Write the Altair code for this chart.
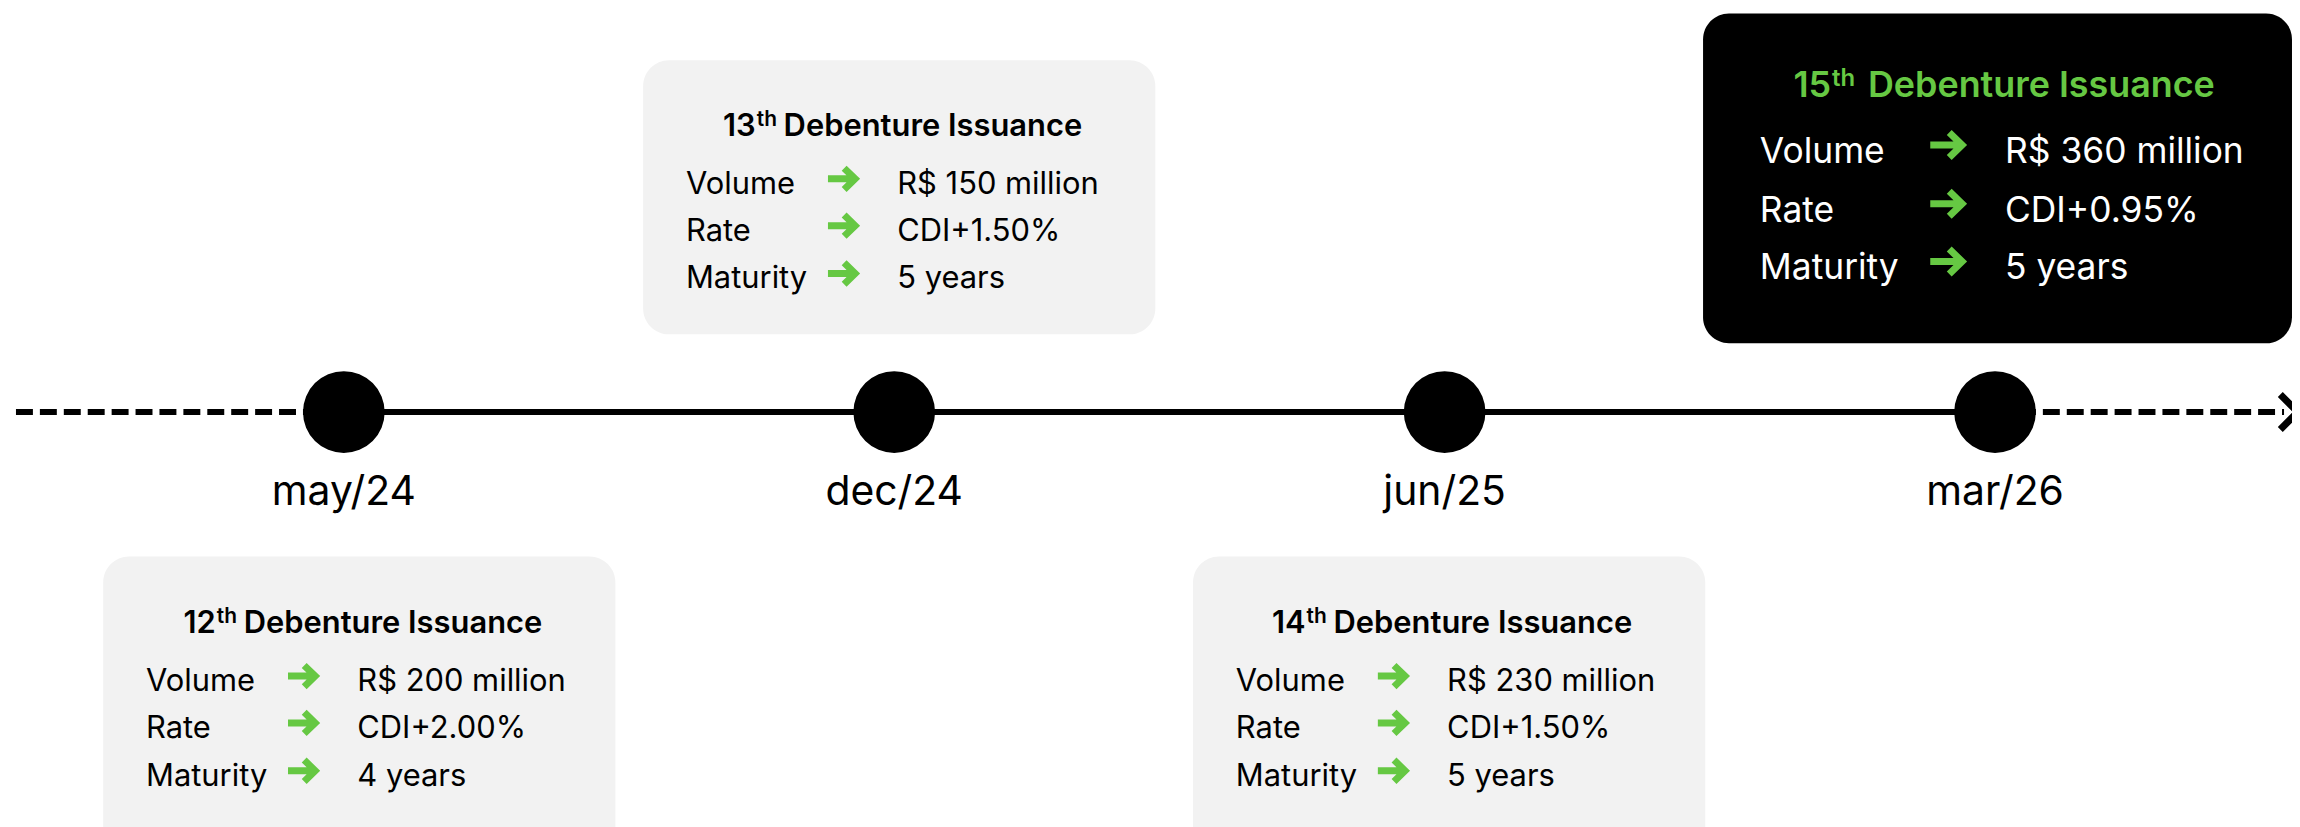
import altair as alt
import pandas as pd

# ---------------- data ----------------
dates = ["may/24", "dec/24", "jun/25", "mar/26"]
ordinals = ["12", "13", "14", "15"]
row_labels = ["Volume", "Rate", "Maturity"]
volumes = ["R$ 200 million", "R$ 150 million", "R$ 230 million", "R$ 360 million"]
rates = ["CDI+2.00%", "CDI+1.50%", "CDI+1.50%", "CDI+0.95%"]
maturities = ["4 years", "5 years", "5 years", "5 years"]
placement = ["below", "above", "below", "above"]
highlight = [False, False, False, True]

# ---------------- layout / style ----------------
W, H = 2292, 819
X0, STEP = 337.0, 552.33          # pixel position of first event and spacing
LINE_Y = 404
GREEN = "#66c843"
GRAY = "#f2f2f2"
box_shift = [15.5, 5.0, 4.5, 2.5]

STYLE = {
    False: dict(hw=257, label=-214, arrow=-57, value=-2, anchor=-144, rest=28,
                tsize=31, thsize=21, thraise=10, size=31, asize=29, araise=15,
                fill=GRAY, tcolor="#000000", color="#000000"),
    True: dict(hw=295.5, label=-238.5, arrow=-50.5, value=7.5, anchor=-167, rest=37,
               tsize=36, thsize=24, thraise=11, size=35.5, asize=34, araise=18,
               fill="#000000", tcolor=GREEN, color="#ffffff"),
}
VERT = {
    ("above", False): dict(top=51, bottom=326, title=127, rows=[185, 232, 280]),
    ("below", False): dict(top=549, bottom=880, title=626, rows=[684, 731, 779]),
    ("above", True): dict(top=4, bottom=335, title=88, rows=[154, 213, 271]),
}


def xi(i, off=0.0):
    return i + off / STEP


def px(p):
    return (p - X0) / STEP


x_scale = alt.Scale(domain=[px(0), px(W)], nice=False, zero=False)
y_scale = alt.Scale(domain=[0, H], reverse=True, nice=False, zero=False)

boxes, tnum, tth, trest, labs, vals, arrows = [], [], [], [], [], [], []
for i in range(len(dates)):
    st = STYLE[highlight[i]]
    vt = VERT[(placement[i], highlight[i])]
    c = box_shift[i]
    boxes.append(dict(x=xi(i, c - st["hw"]), x2=xi(i, c + st["hw"]),
                      y=vt["top"], y2=vt["bottom"], fill=st["fill"]))
    a = c + st["anchor"]
    tnum.append(dict(x=xi(i, a), y=vt["title"], text=ordinals[i], size=st["tsize"], color=st["tcolor"]))
    tth.append(dict(x=xi(i, a + 1), y=vt["title"] - st["thraise"], text="th", size=st["thsize"], color=st["tcolor"]))
    trest.append(dict(x=xi(i, a + st["rest"]), y=vt["title"], text="Debenture Issuance",
                      size=st["tsize"], color=st["tcolor"]))
    row_vals = [volumes[i], rates[i], maturities[i]]
    for k in range(3):
        yb = vt["rows"][k]
        labs.append(dict(x=xi(i, c + st["label"]), y=yb, text=row_labels[k], size=st["size"], color=st["color"]))
        vals.append(dict(x=xi(i, c + st["value"]), y=yb, text=row_vals[k], size=st["size"], color=st["color"]))
        arrows.append(dict(x=xi(i, c + st["arrow"]), y=yb - st["araise"], size=st["asize"] ** 2, color=GREEN))

ev = pd.DataFrame(dict(i=list(range(len(dates))), date=dates, y=[LINE_Y] * len(dates), ly=[497] * len(dates)))

X = lambda f="x": alt.X(f"{f}:Q", scale=x_scale, axis=None)
Y = lambda f="y": alt.Y(f"{f}:Q", scale=y_scale, axis=None)

box_layer = alt.Chart(pd.DataFrame(boxes)).mark_rect(cornerRadius=26).encode(
    x=X(), x2="x2:Q", y=Y(), y2="y2:Q", color=alt.Color("fill:N", scale=None))

dashed = pd.DataFrame(dict(x=[px(8), len(dates) - 1], x2=[0, px(2284)], y=[LINE_Y, LINE_Y]))
solid = pd.DataFrame(dict(x=[0], x2=[len(dates) - 1], y=[LINE_Y]))
dash_layer = alt.Chart(dashed).mark_rule(strokeWidth=6, strokeDash=[17, 7], color="black").encode(
    x=X(), x2="x2:Q", y=Y())
solid_layer = alt.Chart(solid).mark_rule(strokeWidth=6, color="black").encode(x=X(), x2="x2:Q", y=Y())
chev = pd.DataFrame(dict(x=[px(2289)], y=[LINE_Y]))
chev_layer = alt.Chart(chev).mark_point(shape="M-0.5,-1L0.5,0L-0.5,1", filled=False, strokeWidth=7,
                                        color="black", opacity=1, size=1225, strokeJoin="miter").encode(
    x=X(), y=Y())

circ_layer = alt.Chart(ev).mark_circle(size=6724, color="black", opacity=1).encode(x=X("i"), y=Y())
date_layer = alt.Chart(ev).mark_text(font="Inter", fontSize=41, align="center", baseline="alphabetic",
                                     color="black").encode(x=X("i"), y=Y("ly"), text="date:N")


def text_layer(rows, align, weight):
    return alt.Chart(pd.DataFrame(rows)).mark_text(font="Inter", align=align, baseline="alphabetic",
                                                   fontWeight=weight).encode(
        x=X(), y=Y(), text="text:N", size=alt.Size("size:Q", scale=None),
        color=alt.Color("color:N", scale=None))


arrow_layer = alt.Chart(pd.DataFrame(arrows)).mark_point(
    shape="M-1,0L0.8,0M0.12,-0.74L0.88,0L0.12,0.74", filled=False, strokeWidth=7, opacity=1,
    strokeJoin="miter").encode(x=X(), y=Y(), size=alt.Size("size:Q", scale=None),
                               color=alt.Color("color:N", scale=None))

chart = alt.layer(
    box_layer, dash_layer, solid_layer, chev_layer, circ_layer, date_layer,
    text_layer(tnum, "right", 600), text_layer(tth, "left", 600), text_layer(trest, "left", 600),
    text_layer(labs, "left", 400), text_layer(vals, "left", 400), arrow_layer,
).properties(width=W, height=H, padding=0, autosize="none", background="white").configure_view(stroke=None)

chart.save("out.html", embed_options={"renderer": "svg", "actions": False})
